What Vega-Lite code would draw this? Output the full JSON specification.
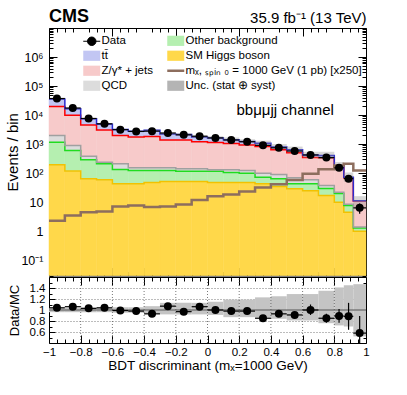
{
  "$schema": "https://vega.github.io/schema/vega-lite/v6.json",
  "width": 317,
  "height": 315,
  "autosize": {"type": "none"},
  "padding": {"left": 49, "top": 28, "right": 41, "bottom": 52},
  "background": "white",
  "config": {
    "font": "Liberation Sans",
    "view": {"stroke": null},
    "axis": {"domainColor": "black", "tickColor": "black", "labelColor": "black", "titleColor": "black", "titleFontWeight": "normal", "zindex": 1, "domainWidth": 1, "tickWidth": 1, "grid": false, "labelFont": "Liberation Sans", "titleFont": "Liberation Sans", "labelOverlap": false, "labelFlush": false, "labelBound": false},
    "legend": {"labelFont": "Liberation Sans", "labelFontSize": 11.5, "labelColor": "black", "padding": 0, "rowPadding": 0, "columnPadding": 9, "labelOffset": 4, "symbolSize": 289, "labelLimit": 300}
  },
  "title": {"text": "CMS", "anchor": "start", "frame": "group", "fontSize": 18, "fontWeight": "bold", "font": "Liberation Sans", "baseline": "alphabetic", "offset": 0, "dy": 30, "color": "black"},
  "datasets": {
    "bins": [
      {"lo": -1, "hi": -0.9, "x": -0.95, "data": 37300, "dlo": 37110, "dhi": 37490, "ratio": 1.04, "rlo": 1.03, "rhi": 1.05, "mclo": 34460, "mchi": 37340, "blo": 0.96, "bhi": 1.04, "sig": 2.3, "h": 195, "o": 975, "q": 830, "r": 17700, "t": 16200},
      {"lo": -0.9, "hi": -0.8, "x": -0.85, "data": 17600, "dlo": 17470, "dhi": 17730, "ratio": 1.06, "rlo": 1.05, "rhi": 1.07, "mclo": 15940, "mchi": 17260, "blo": 0.96, "bhi": 1.04, "sig": 3.5, "h": 120, "o": 480, "q": 300, "r": 8900, "t": 6800},
      {"lo": -0.8, "hi": -0.7, "x": -0.75, "data": 7670, "dlo": 7580, "dhi": 7760, "ratio": 1.03, "rlo": 1.02, "rhi": 1.04, "mclo": 7150, "mchi": 7750, "blo": 0.96, "bhi": 1.04, "sig": 4.5, "h": 64, "o": 226, "q": 90, "r": 4220, "t": 2850},
      {"lo": -0.7, "hi": -0.6, "x": -0.65, "data": 5040, "dlo": 4970, "dhi": 5110, "ratio": 1.04, "rlo": 1.025, "rhi": 1.055, "mclo": 4660, "mchi": 5040, "blo": 0.96, "bhi": 1.04, "sig": 4.8, "h": 59, "o": 151, "q": 30, "r": 2810, "t": 1800},
      {"lo": -0.6, "hi": -0.5, "x": -0.55, "data": 3160, "dlo": 3100, "dhi": 3220, "ratio": 0.99, "rlo": 0.97, "rhi": 1.01, "mclo": 3030, "mchi": 3350, "blo": 0.95, "bhi": 1.05, "sig": 7.1, "h": 43, "o": 91, "q": 76, "r": 1790, "t": 1190},
      {"lo": -0.5, "hi": -0.4, "x": -0.45, "data": 2740, "dlo": 2690, "dhi": 2790, "ratio": 0.98, "rlo": 0.96, "rhi": 1.0, "mclo": 2660, "mchi": 2940, "blo": 0.95, "bhi": 1.05, "sig": 7.7, "h": 43, "o": 81, "q": 30, "r": 1596, "t": 1050},
      {"lo": -0.4, "hi": -0.3, "x": -0.35, "data": 2800, "dlo": 2750, "dhi": 2850, "ratio": 0.93, "rlo": 0.91, "rhi": 0.95, "mclo": 2800, "mchi": 3220, "blo": 0.93, "bhi": 1.07, "sig": 6.9, "h": 48, "o": 76, "q": 30, "r": 1696, "t": 1160},
      {"lo": -0.3, "hi": -0.2, "x": -0.25, "data": 2420, "dlo": 2370, "dhi": 2470, "ratio": 1.07, "rlo": 1.05, "rhi": 1.09, "mclo": 2080, "mchi": 2550, "blo": 0.92, "bhi": 1.13, "sig": 7.1, "h": 52, "o": 72, "q": 30, "r": 1246, "t": 860},
      {"lo": -0.2, "hi": -0.1, "x": -0.15, "data": 2095, "dlo": 2050, "dhi": 2140, "ratio": 0.97, "rlo": 0.95, "rhi": 0.99, "mclo": 1990, "mchi": 2440, "blo": 0.92, "bhi": 1.13, "sig": 8.3, "h": 52, "o": 65, "q": 24, "r": 1259, "t": 760},
      {"lo": -0.1, "hi": 0, "x": -0.05, "data": 1875, "dlo": 1830, "dhi": 1920, "ratio": 1.06, "rlo": 1.04, "rhi": 1.08, "mclo": 1630, "mchi": 2000, "blo": 0.92, "bhi": 1.13, "sig": 12, "h": 52, "o": 65, "q": 24, "r": 1059, "t": 570},
      {"lo": 0, "hi": 0.1, "x": 0.05, "data": 1640, "dlo": 1600, "dhi": 1680, "ratio": 1.0, "rlo": 0.98, "rhi": 1.02, "mclo": 1490, "mchi": 1890, "blo": 0.91, "bhi": 1.15, "sig": 16, "h": 48, "o": 69, "q": 14, "r": 1019, "t": 490},
      {"lo": 0.1, "hi": 0.2, "x": 0.15, "data": 1390, "dlo": 1355, "dhi": 1425, "ratio": 0.98, "rlo": 0.955, "rhi": 1.005, "mclo": 1235, "mchi": 1690, "blo": 0.87, "bhi": 1.19, "sig": 18.5, "h": 48, "o": 57, "q": 26, "r": 919, "t": 370},
      {"lo": 0.2, "hi": 0.3, "x": 0.25, "data": 1215, "dlo": 1180, "dhi": 1250, "ratio": 0.98, "rlo": 0.95, "rhi": 1.01, "mclo": 1080, "mchi": 1475, "blo": 0.87, "bhi": 1.19, "sig": 23.5, "h": 48, "o": 52, "q": 25, "r": 805, "t": 310},
      {"lo": 0.3, "hi": 0.4, "x": 0.35, "data": 910, "dlo": 880, "dhi": 940, "ratio": 0.85, "rlo": 0.8, "rhi": 0.9, "mclo": 920, "mchi": 1315, "blo": 0.86, "bhi": 1.23, "sig": 32, "h": 43, "o": 30, "q": 27, "r": 730, "t": 240},
      {"lo": 0.4, "hi": 0.5, "x": 0.45, "data": 750, "dlo": 723, "dhi": 777, "ratio": 0.93, "rlo": 0.88, "rhi": 0.98, "mclo": 677, "mchi": 1008, "blo": 0.84, "bhi": 1.25, "sig": 42, "h": 35, "o": 29, "q": 26, "r": 550, "t": 166},
      {"lo": 0.5, "hi": 0.6, "x": 0.55, "data": 582, "dlo": 558, "dhi": 606, "ratio": 0.91, "rlo": 0.86, "rhi": 0.96, "mclo": 518, "mchi": 826, "blo": 0.81, "bhi": 1.29, "sig": 58, "h": 29, "o": 14, "q": 27, "r": 440, "t": 130},
      {"lo": 0.6, "hi": 0.7, "x": 0.65, "data": 425, "dlo": 404, "dhi": 446, "ratio": 1.0, "rlo": 0.91, "rhi": 1.1, "mclo": 344, "mchi": 548, "blo": 0.81, "bhi": 1.29, "sig": 95, "h": 25, "o": 18, "q": 17, "r": 290, "t": 75},
      {"lo": 0.7, "hi": 0.8, "x": 0.75, "data": 344, "dlo": 325, "dhi": 363, "ratio": 0.85, "rlo": 0.77, "rhi": 0.93, "mclo": 308, "mchi": 547, "blo": 0.76, "bhi": 1.35, "sig": 138, "h": 17, "o": 13, "q": 8, "r": 302, "t": 65},
      {"lo": 0.8, "hi": 0.86, "x": 0.83, "data": 153, "dlo": 141, "dhi": 165, "ratio": 0.89, "rlo": 0.77, "rhi": 1.02, "mclo": 124, "mchi": 243, "blo": 0.72, "bhi": 1.41, "sig": 185, "h": 10, "o": 10, "q": 2, "r": 138, "t": 12},
      {"lo": 0.86, "hi": 0.92, "x": 0.89, "data": 65, "dlo": 57, "dhi": 73, "ratio": 0.885, "rlo": 0.64, "rhi": 1.13, "mclo": 51, "mchi": 106, "blo": 0.7, "bhi": 1.45, "sig": 210, "h": 4.5, "o": 3.2, "q": 0.8, "r": 61.5, "t": 3},
      {"lo": 0.92, "hi": 1, "x": 0.96, "data": 6.4, "dlo": 4, "dhi": 9, "ratio": 0.58, "rlo": 0.3, "rhi": 0.89, "mclo": 5.7, "mchi": 16.2, "blo": 0.52, "bhi": 1.47, "sig": 124, "h": 1.0, "o": 0.3, "q": 0.1, "r": 9.6, "t": 0.2}
    ]
  },
  "resolve": {"scale": {"x": "independent", "y": "independent"}},
  "layer": [
    {
      "layer": [
        {
          "data": {"name": "bins"},
          "transform": [
            {"fold": ["h", "o", "q", "r", "t"], "as": ["key", "value"]},
            {"stack": "value", "groupby": ["lo"], "sort": [{"field": "key", "order": "ascending"}], "as": ["y0", "y1"]}
          ],
          "mark": {"type": "rect", "strokeWidth": 0.5},
          "encoding": {
            "x": {"field": "lo", "type": "quantitative", "scale": {"domain": [-1, 1], "nice": false, "zero": false},
              "axis": {"orient": "top", "values": [-1,-0.8,-0.6,-0.4,-0.2,0,0.2,0.4,0.6,0.8,1], "labels": false, "tickSize": -8,
                "title": "35.9 fb⁻¹ (13 TeV)", "titleAnchor": "end", "titleFontSize": 15, "titleY": -6, "titleBaseline": "alphabetic"}},
            "x2": {"field": "hi"},
            "y": {"field": "y1", "type": "quantitative", "scale": {"type": "log", "domain": [0.03, 10000000], "range": [247.5, 0], "clamp": true, "nice": false},
              "axis": {"orient": "left", "values": [0.1,1,10,100,1000,10000,100000,1000000], "labelOverlap": false,
                "labelExpr": "datum.value < 0.5 ? '10⁻¹' : datum.value < 5 ? '1' : datum.value < 50 ? '10' : datum.value < 500 ? '10²' : datum.value < 5000 ? '10³' : datum.value < 50000 ? '10⁴' : datum.value < 500000 ? '10⁵' : '10⁶'",
                "tickSize": -8, "labelPadding": 14, "labelFontSize": 12.5,
                "title": "Events / bin", "titleFontSize": 15, "titleX": -37, "titleBaseline": "middle"}},
            "y2": {"field": "y0"},
            "fill": {"field": "key", "type": "nominal",
              "scale": {"domain": ["data", "t", "r", "q", "o", "h", "sig", "unc"], "range": ["#000000", "#c2c6f3", "#f7caca", "#dcdcdc", "#b5efb0", "#ffd84a", "#8d6e5e", "#b4b4b4"]},
              "legend": {"orient": "none", "legendX": 37, "legendY": 7, "columns": 2, "direction": "vertical", "title": null,
                "labelExpr": "datum.value == 'data' ? 'Data' : datum.value == 'o' ? 'Other background' : datum.value == 't' ? 'tt\u0304' : datum.value == 'h' ? 'SM Higgs boson' : datum.value == 'r' ? 'Z/γ* + jets' : datum.value == 'sig' ? 'mₓ, ₛₚᵢₙ ₀ = 1000 GeV (1 pb) [x250]' : datum.value == 'q' ? 'QCD' : 'Unc. (stat ⊕ syst)'",
                "encode": {"symbols": {"update": {
                  "shape": {"signal": "datum.value == 'data' ? 'M-1,0H1M0.5,0A0.5,0.5,0,1,1,-0.5,0A0.5,0.5,0,1,1,0.5,0Z' : datum.value == 'sig' ? 'M-1,0H1' : 'M-1,-0.6H1V0.6H-1Z'"},
                  "fill": {"signal": "datum.value == 'data' ? '#000000' : datum.value == 'sig' ? 'transparent' : datum.value == 'o' ? '#b5efb0' : datum.value == 't' ? '#c2c6f3' : datum.value == 'h' ? '#ffd84a' : datum.value == 'r' ? '#f7caca' : datum.value == 'q' ? '#dcdcdc' : '#b4b4b4'"},
                  "stroke": {"signal": "datum.value == 'data' ? '#000000' : datum.value == 'sig' ? '#8d6e5e' : 'transparent'"},
                  "strokeWidth": {"signal": "datum.value == 'sig' ? 2.5 : 1"},
                  "opacity": {"value": 1}
                }}}}},
            "stroke": {"field": "key", "type": "nominal",
              "scale": {"domain": ["h", "o", "q", "r", "t"], "range": ["#ffd84a", "#b5efb0", "#dcdcdc", "#f7caca", "#c2c6f3"]}, "legend": null}
          }
        },
        {
          "data": {"name": "bins"},
          "transform": [
            {"fold": ["h", "o", "q", "r", "t"], "as": ["key", "value"]},
            {"stack": "value", "groupby": ["lo"], "sort": [{"field": "key", "order": "ascending"}], "as": ["y0", "y1"]},
            {"fold": ["lo", "hi"], "as": ["edge", "xe"]}
          ],
          "mark": {"type": "line", "strokeWidth": 1.5},
          "encoding": {
            "x": {"field": "xe", "type": "quantitative"},
            "y": {"field": "y1", "type": "quantitative"},
            "color": {"field": "key", "type": "nominal", "scale": {"domain": ["h", "o", "q", "r", "t"], "range": ["#f2c200", "#1fdc1f", "#a0a0a0", "#ff0000", "#2a2ad0"]}, "legend": null}
          }
        },
        {
          "data": {"name": "bins"},
          "mark": {"type": "rect", "fill": "#8c8c8c", "opacity": 0.35},
          "encoding": {
            "x": {"field": "lo", "type": "quantitative"},
            "x2": {"field": "hi"},
            "y": {"field": "mclo", "type": "quantitative"},
            "y2": {"field": "mchi"}
          }
        },
        {
          "data": {"name": "bins"},
          "transform": [{"fold": ["lo", "hi"], "as": ["edge", "xe"]}],
          "mark": {"type": "line", "color": "#8d6e5e", "strokeWidth": 2.5},
          "encoding": {
            "x": {"field": "xe", "type": "quantitative"},
            "y": {"field": "sig", "type": "quantitative"}
          }
        },
        {
          "data": {"name": "bins"},
          "mark": {"type": "rule", "color": "black", "strokeWidth": 1.2},
          "encoding": {
            "x": {"field": "x", "type": "quantitative"},
            "y": {"field": "dlo", "type": "quantitative"},
            "y2": {"field": "dhi"}
          }
        },
        {
          "data": {"name": "bins"},
          "mark": {"type": "rule", "color": "black", "strokeWidth": 1.2},
          "encoding": {
            "x": {"field": "lo", "type": "quantitative"},
            "x2": {"field": "hi"},
            "y": {"field": "data", "type": "quantitative"}
          }
        },
        {
          "data": {"name": "bins"},
          "mark": {"type": "circle", "size": 64, "color": "black", "opacity": 1},
          "encoding": {
            "x": {"field": "x", "type": "quantitative"},
            "y": {"field": "data", "type": "quantitative"}
          }
        },
        {
          "data": {"values": [{"label": "bbμμjj channel"}]},
          "mark": {"type": "text", "fontSize": 15, "align": "center", "baseline": "middle", "color": "black"},
          "encoding": {
            "x": {"datum": 0.49},
            "y": {"datum": 14500},
            "text": {"field": "label"}
          }
        }
      ]
    },
    {
      "layer": [
        {
          "data": {"name": "bins"},
          "mark": {"type": "rect", "fill": "#c4c4c4"},
          "encoding": {
            "x": {"field": "lo", "type": "quantitative", "scale": {"domain": [-1, 1], "nice": false, "zero": false},
              "axis": {"orient": "bottom", "values": [-1,-0.6,-0.2,0.2,0.6,1], "labelOverlap": false,
                "labelExpr": "format(datum.value, '.1~f')", "tickSize": -8, "labelPadding": 11, "labelFontSize": 11.5,
                "title": "BDT discriminant (mₓ=1000 GeV)", "titleFontSize": 13.5, "titleY": 22, "titleBaseline": "middle"}},
            "x2": {"field": "hi"},
            "y": {"field": "blo", "type": "quantitative", "scale": {"domain": [0.4, 1.6], "range": [315, 249], "clamp": true, "nice": false, "zero": false},
              "axis": {"orient": "left", "values": [0.6,0.8,1,1.2,1.4], "labelOverlap": false,
                "labelExpr": "format(datum.value, '.1~f')", "tickSize": -6, "labelPadding": 10, "labelFontSize": 11.5,
                "grid": true, "gridDash": [1, 2], "gridColor": "#555555", "gridWidth": 0.8,
                "title": "Data/MC", "titleFontSize": 13, "titleX": -35, "titleBaseline": "middle"}},
            "y2": {"field": "bhi"}
          }
        },
        {
          "data": {"values": [{"g": -0.8}, {"g": -0.6}, {"g": -0.4}, {"g": -0.2}, {"g": 0}, {"g": 0.2}, {"g": 0.4}, {"g": 0.6}, {"g": 0.8}]},
          "mark": {"type": "rule", "color": "#555555", "strokeDash": [1, 2], "strokeWidth": 0.8},
          "encoding": {
            "x": {"field": "g", "type": "quantitative"},
            "y": {"datum": 0.4},
            "y2": {"datum": 1.6}
          }
        },
        {
          "data": {"values": [{"ref": 1}]},
          "mark": {"type": "rule", "color": "#555555", "strokeWidth": 1.2},
          "encoding": {
            "y": {"field": "ref", "type": "quantitative"}
          }
        },
        {
          "data": {"name": "bins"},
          "mark": {"type": "rule", "color": "black", "strokeWidth": 1.2},
          "encoding": {
            "x": {"field": "x", "type": "quantitative"},
            "y": {"field": "rlo", "type": "quantitative"},
            "y2": {"field": "rhi"}
          }
        },
        {
          "data": {"name": "bins"},
          "mark": {"type": "rule", "color": "black", "strokeWidth": 1.2},
          "encoding": {
            "x": {"field": "lo", "type": "quantitative"},
            "x2": {"field": "hi"},
            "y": {"field": "ratio", "type": "quantitative"}
          }
        },
        {
          "data": {"name": "bins"},
          "mark": {"type": "circle", "size": 64, "color": "black", "opacity": 1},
          "encoding": {
            "x": {"field": "x", "type": "quantitative"},
            "y": {"field": "ratio", "type": "quantitative"}
          }
        }
      ]
    },
    {
      "data": {"name": "bins"},
      "mark": {"type": "point", "opacity": 0},
      "encoding": {
        "x": {"field": "x", "type": "quantitative", "scale": {"domain": [-1, 1], "nice": false, "zero": false},
          "axis": {"orient": "bottom", "domain": false, "values": [-0.8,-0.4,0,0.4,0.8], "labelOverlap": false,
            "labelExpr": "format(datum.value, '.1~f')", "tickSize": -8, "labelPadding": 11, "labelFontSize": 11.5, "title": null}},
        "y": {"field": "ratio", "type": "quantitative", "scale": {"domain": [0.4, 1.6], "range": [315, 249], "clamp": true, "nice": false, "zero": false}, "axis": null}
      }
    },
    {
      "data": {"name": "bins"},
      "mark": {"type": "point", "opacity": 0},
      "encoding": {
        "x": {"field": "x", "type": "quantitative", "scale": {"domain": [-1, 1], "nice": false, "zero": false},
          "axis": {"orient": "bottom", "offset": -67.5, "labels": false, "title": null, "values": [-1,-0.8,-0.6,-0.4,-0.2,0,0.2,0.4,0.6,0.8,1], "tickSize": -8}},
        "y": {"field": "data", "type": "quantitative", "scale": {"type": "log", "domain": [0.03, 10000000], "range": [247.5, 0], "clamp": true, "nice": false},
          "axis": {"orient": "right", "labels": false, "title": null, "values": [0.1,1,10,100,1000,10000,100000,1000000], "tickSize": -8}}
      }
    },
    {
      "data": {"name": "bins"},
      "mark": {"type": "point", "opacity": 0},
      "encoding": {
        "x": {"field": "x", "type": "quantitative", "scale": {"domain": [-1, 1], "nice": false, "zero": false},
          "axis": {"orient": "top", "offset": -249, "labels": false, "title": null, "values": [-1,-0.8,-0.6,-0.4,-0.2,0,0.2,0.4,0.6,0.8,1], "tickSize": -8}},
        "y": {"field": "ratio", "type": "quantitative", "scale": {"domain": [0.4, 1.6], "range": [315, 249], "clamp": true, "nice": false, "zero": false},
          "axis": {"orient": "right", "labels": false, "title": null, "values": [0.6,0.8,1,1.2,1.4], "tickSize": -6}}
      }
    },
    {
      "data": {"name": "bins"},
      "mark": {"type": "point", "opacity": 0},
      "encoding": {
        "x": {"field": "x", "type": "quantitative", "scale": {"domain": [-1, 1], "nice": false, "zero": false},
          "axis": {"orient": "top", "domain": false, "labels": false, "title": null, "values": [-0.95,-0.9,-0.85,-0.75,-0.7,-0.65,-0.55,-0.5,-0.45,-0.35,-0.3,-0.25,-0.15,-0.1,-0.05,0.05,0.1,0.15,0.25,0.3,0.35,0.45,0.5,0.55,0.65,0.7,0.75,0.85,0.9,0.95], "tickSize": -4}},
        "y": {"field": "data", "type": "quantitative", "scale": {"type": "log", "domain": [0.03, 10000000], "range": [247.5, 0], "clamp": true, "nice": false},
          "axis": {"orient": "left", "domain": false, "labels": false, "title": null, "values": [0.03,0.04,0.05,0.06,0.07,0.08,0.09,0.2,0.3,0.4,0.5,0.6,0.7,0.8,0.9,2,3,4,5,6,7,8,9,20,30,40,50,60,70,80,90,200,300,400,500,600,700,800,900,2000,3000,4000,5000,6000,7000,8000,9000,20000,30000,40000,50000,60000,70000,80000,90000,200000,300000,400000,500000,600000,700000,800000,900000,2000000,3000000,4000000,5000000,6000000,7000000,8000000,9000000], "tickSize": -4}}
      }
    },
    {
      "data": {"name": "bins"},
      "mark": {"type": "point", "opacity": 0},
      "encoding": {
        "x": {"field": "x", "type": "quantitative", "scale": {"domain": [-1, 1], "nice": false, "zero": false},
          "axis": {"orient": "bottom", "offset": -67.5, "domain": false, "labels": false, "title": null, "values": [-0.95,-0.9,-0.85,-0.75,-0.7,-0.65,-0.55,-0.5,-0.45,-0.35,-0.3,-0.25,-0.15,-0.1,-0.05,0.05,0.1,0.15,0.25,0.3,0.35,0.45,0.5,0.55,0.65,0.7,0.75,0.85,0.9,0.95], "tickSize": -4}},
        "y": {"field": "data", "type": "quantitative", "scale": {"type": "log", "domain": [0.03, 10000000], "range": [247.5, 0], "clamp": true, "nice": false},
          "axis": {"orient": "right", "domain": false, "labels": false, "title": null, "values": [0.03,0.04,0.05,0.06,0.07,0.08,0.09,0.2,0.3,0.4,0.5,0.6,0.7,0.8,0.9,2,3,4,5,6,7,8,9,20,30,40,50,60,70,80,90,200,300,400,500,600,700,800,900,2000,3000,4000,5000,6000,7000,8000,9000,20000,30000,40000,50000,60000,70000,80000,90000,200000,300000,400000,500000,600000,700000,800000,900000,2000000,3000000,4000000,5000000,6000000,7000000,8000000,9000000], "tickSize": -4}}
      }
    },
    {
      "data": {"name": "bins"},
      "mark": {"type": "point", "opacity": 0},
      "encoding": {
        "x": {"field": "x", "type": "quantitative", "scale": {"domain": [-1, 1], "nice": false, "zero": false},
          "axis": {"orient": "bottom", "domain": false, "labels": false, "title": null, "values": [-0.95,-0.9,-0.85,-0.75,-0.7,-0.65,-0.55,-0.5,-0.45,-0.35,-0.3,-0.25,-0.15,-0.1,-0.05,0.05,0.1,0.15,0.25,0.3,0.35,0.45,0.5,0.55,0.65,0.7,0.75,0.85,0.9,0.95], "tickSize": -4}},
        "y": {"field": "ratio", "type": "quantitative", "scale": {"domain": [0.4, 1.6], "range": [315, 249], "clamp": true, "nice": false, "zero": false},
          "axis": {"orient": "left", "domain": false, "labels": false, "title": null, "values": [0.5,0.7,0.9,1.1,1.3,1.5], "tickSize": -3}}
      }
    },
    {
      "data": {"name": "bins"},
      "mark": {"type": "point", "opacity": 0},
      "encoding": {
        "x": {"field": "x", "type": "quantitative", "scale": {"domain": [-1, 1], "nice": false, "zero": false},
          "axis": {"orient": "top", "offset": -249, "domain": false, "labels": false, "title": null, "values": [-0.95,-0.9,-0.85,-0.75,-0.7,-0.65,-0.55,-0.5,-0.45,-0.35,-0.3,-0.25,-0.15,-0.1,-0.05,0.05,0.1,0.15,0.25,0.3,0.35,0.45,0.5,0.55,0.65,0.7,0.75,0.85,0.9,0.95], "tickSize": -4}},
        "y": {"field": "ratio", "type": "quantitative", "scale": {"domain": [0.4, 1.6], "range": [315, 249], "clamp": true, "nice": false, "zero": false},
          "axis": {"orient": "right", "domain": false, "labels": false, "title": null, "values": [0.5,0.7,0.9,1.1,1.3,1.5], "tickSize": -3}}
      }
    }
  ]
}
